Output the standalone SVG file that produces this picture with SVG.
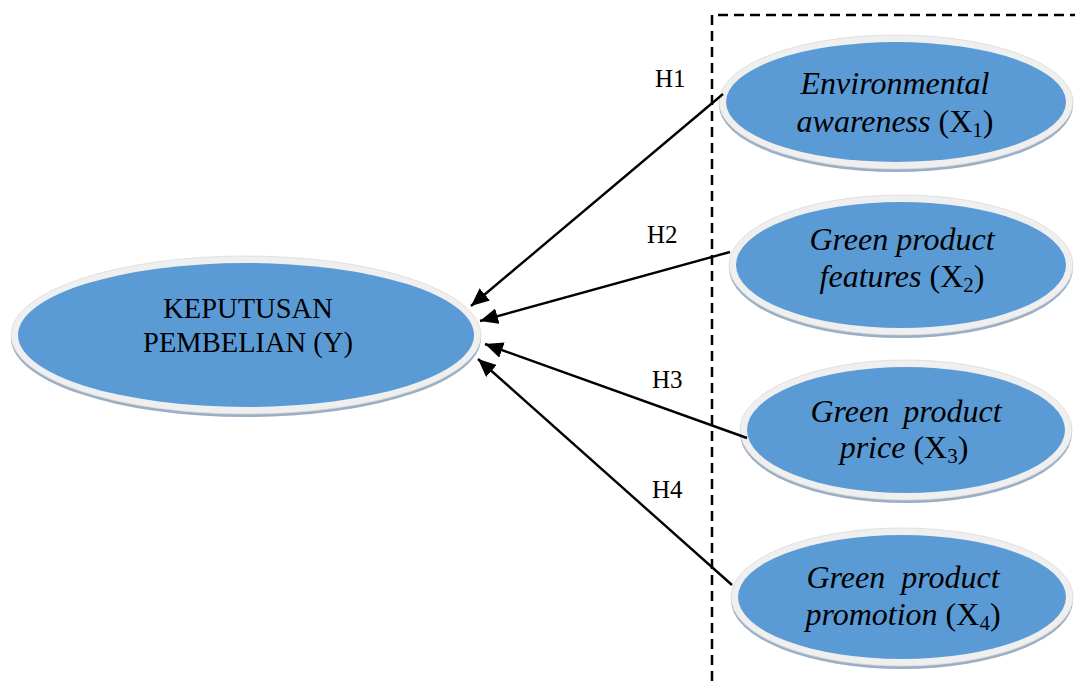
<svg xmlns="http://www.w3.org/2000/svg" width="1075" height="681" viewBox="0 0 1075 681">
  <style>
    .shadow { fill: #9aaec4; }
    .rim { fill: #efefef; stroke: #dadada; stroke-width: 0.8; }
    .core { fill: #5b9bd5; }
    .lbl { font-family: "Liberation Serif", "Times New Roman", serif; fill: #000; }
    .node-t { font-family: "Liberation Serif", "Times New Roman", serif; font-size: 32px; fill: #000; text-anchor: middle; }
    .it { font-style: italic; }
    .conn { stroke: #000; stroke-width: 2.4; fill: none; marker-end: url(#arrow); }
    .dash { stroke: #000; stroke-width: 2.5; fill: none; stroke-dasharray: 10 6; }
  </style>
  <defs>
    <marker id="arrow" markerUnits="userSpaceOnUse" markerWidth="20" markerHeight="16" refX="18" refY="8" orient="auto">
      <path d="M0,0 L18,8 L0,16 Z" fill="#000"/>
    </marker>
  </defs>

  <rect width="1075" height="681" fill="#fff"/>

  <path class="dash" d="M712,681 L712,15 L1075,15"/>

  <g id="node-y">
    <ellipse class="shadow" cx="246" cy="338" rx="235" ry="79"/>
    <ellipse class="rim" cx="246" cy="335" rx="235" ry="79"/>
    <ellipse class="core" cx="246" cy="335" rx="228" ry="72"/>
    <text class="lbl" font-size="28.5" text-anchor="middle"><tspan x="248" y="318">KEPUTUSAN</tspan><tspan x="248" y="352">PEMBELIAN (Y)</tspan></text>
  </g>

  <g id="node-x1">
    <ellipse class="shadow" cx="896" cy="105" rx="177" ry="67"/>
    <ellipse class="rim" cx="896" cy="102" rx="177" ry="67"/>
    <ellipse class="core" cx="896" cy="102" rx="170" ry="60"/>
    <text class="node-t"><tspan x="895" y="94" class="it">Environmental</tspan><tspan x="895" y="132"><tspan class="it">awareness</tspan> (X<tspan font-size="21" dy="5">1</tspan><tspan dy="-5">)</tspan></tspan></text>
  </g>

  <g id="node-x2">
    <ellipse class="shadow" cx="901" cy="268" rx="172" ry="70"/>
    <ellipse class="rim" cx="901" cy="265" rx="172" ry="70"/>
    <ellipse class="core" cx="901" cy="265" rx="165" ry="63"/>
    <text class="node-t"><tspan x="902" y="250" class="it">Green product</tspan><tspan x="902" y="287"><tspan class="it">features</tspan> (X<tspan font-size="21" dy="5">2</tspan><tspan dy="-5">)</tspan></tspan></text>
  </g>

  <g id="node-x3">
    <ellipse class="shadow" cx="906" cy="433" rx="166" ry="70"/>
    <ellipse class="rim" cx="906" cy="430" rx="166" ry="70"/>
    <ellipse class="core" cx="906" cy="430" rx="159" ry="63"/>
    <text class="node-t"><tspan x="906" y="422" class="it" word-spacing="6">Green product</tspan><tspan x="904" y="458"><tspan class="it">price</tspan> (X<tspan font-size="21" dy="5">3</tspan><tspan dy="-5">)</tspan></tspan></text>
  </g>

  <g id="node-x4">
    <ellipse class="shadow" cx="902" cy="600" rx="171" ry="69"/>
    <ellipse class="rim" cx="902" cy="597" rx="171" ry="69"/>
    <ellipse class="core" cx="902" cy="597" rx="164" ry="62"/>
    <text class="node-t"><tspan x="903" y="588" class="it" word-spacing="8">Green product</tspan><tspan x="903" y="625"><tspan class="it">promotion</tspan> (X<tspan font-size="21" dy="5">4</tspan><tspan dy="-5">)</tspan></tspan></text>
  </g>

  <g id="connectors">
    <line class="conn" x1="723" y1="94" x2="471" y2="306"/>
    <line class="conn" x1="730" y1="252" x2="480" y2="321"/>
    <line class="conn" x1="747" y1="438" x2="485" y2="344"/>
    <line class="conn" x1="732" y1="585" x2="478" y2="359"/>
  </g>

  <g id="labels">
    <text class="lbl" font-size="25" x="655" y="87">H1</text>
    <text class="lbl" font-size="25" x="647" y="243">H2</text>
    <text class="lbl" font-size="25" x="652" y="388">H3</text>
    <text class="lbl" font-size="25" x="652" y="498">H4</text>
  </g>
</svg>
